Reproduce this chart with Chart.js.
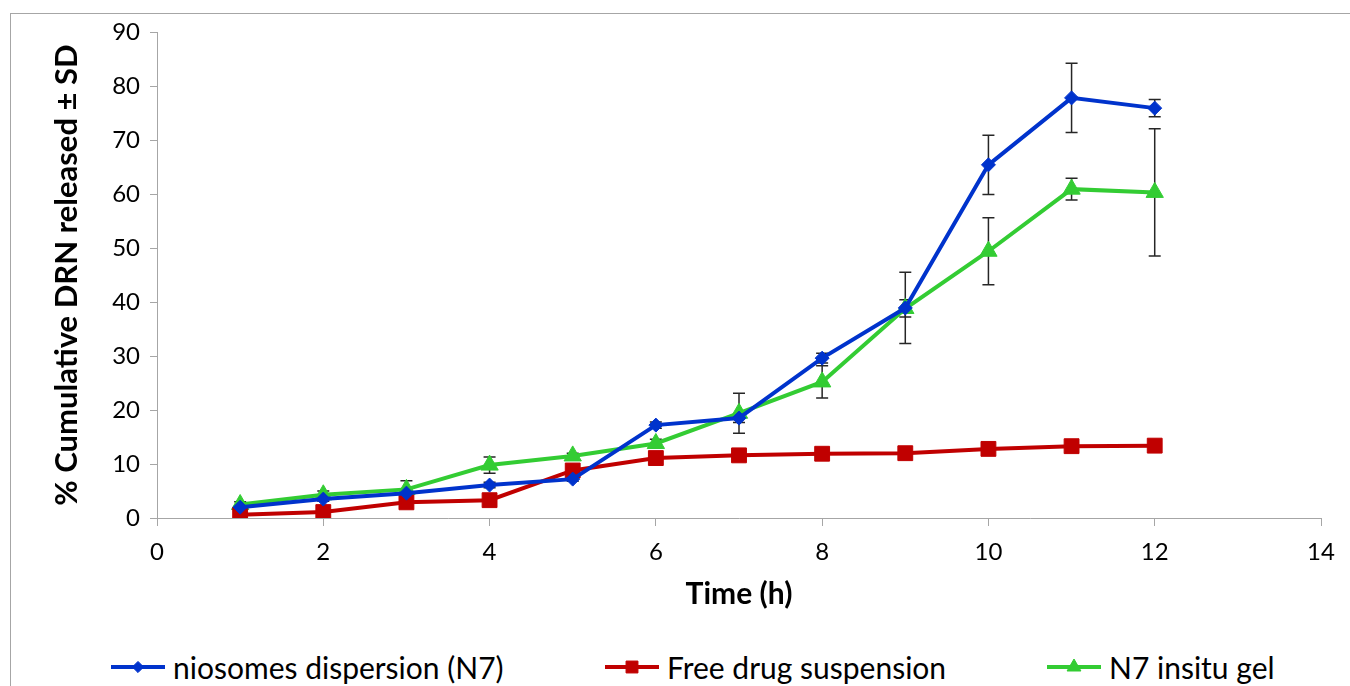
<!DOCTYPE html>
<html>
<head>
<meta charset="utf-8">
<script src="https://cdn.jsdelivr.net/npm/chart.js@4.4.1/dist/chart.umd.min.js"></script>
<style>
  html, body { margin: 0; padding: 0; background: #fff; overflow: hidden; }
  #frame { position: absolute; left: 10px; top: 13px; width: 1400px; height: 700px; border: 1px solid #a6a6a6; }
  #chart { position: absolute; left: 0; top: 0; }
  #legend { position: absolute; left: 0; top: 649px; width: 1350px; height: 36px; font-family: Lato, sans-serif; font-size: 30px; color: #000; }
  .item { position: absolute; top: 0; height: 36px; display: flex; align-items: center; white-space: nowrap; }
  .item canvas { margin-right: 8px; }
</style>
</head>
<body>
<div id="frame"></div>
<canvas id="chart" width="1350" height="640"></canvas>
<div id="legend"></div>
<script>
  // time points (h)
  var hours = [1, 2, 3, 4, 5, 6, 7, 8, 9, 10, 11, 12];

  // niosomes dispersion (N7)
  var niosomes = [2.0, 3.5, 4.6, 6.1, 7.2, 17.2, 18.5, 29.6, 38.9, 65.4, 77.8, 75.9];
  var niosomesSD = [0.3, 0.4, 0.5, 0.5, 0.4, 0.6, 0.8, 0.9, 6.6, 5.5, 6.4, 1.6];

  // Free drug suspension
  var freeDrug = [0.6, 1.1, 2.9, 3.3, 8.8, 11.1, 11.6, 11.9, 12.0, 12.8, 13.3, 13.4];
  var freeDrugSD = [0.2, 0.3, 0.4, 0.4, 0.5, 0.5, 0.4, 0.4, 0.5, 0.5, 0.6, 0.5];

  // N7 insitu gel
  var insituGel = [2.5, 4.3, 5.3, 9.8, 11.5, 13.8, 19.4, 25.2, 38.8, 49.4, 60.9, 60.3];
  var insituGelSD = [0.5, 0.7, 1.6, 1.5, 0.5, 0.8, 3.7, 3.0, 1.6, 6.2, 2.0, 11.8];

  var labels = ["niosomes dispersion (N7)", "Free drug suspension", "N7 insitu gel"];
  var xTicks = [0, 2, 4, 6, 8, 10, 12, 14];
  var yTicks = [0, 10, 20, 30, 40, 50, 60, 70, 80, 90];

  function points(vals, sd) {
    var out = [];
    for (var i = 0; i < hours.length; i++) {
      out.push({ x: hours[i], y: vals[i], sd: sd[i] });
    }
    return out;
  }

  function series(label, vals, sd, color, style, radius) {
    return {
      label: label,
      data: points(vals, sd),
      borderColor: color,
      backgroundColor: color,
      pointBackgroundColor: color,
      pointBorderColor: color,
      borderWidth: 4,
      pointStyle: style,
      pointRadius: radius,
      pointHoverRadius: radius,
      pointBorderWidth: 1,
      tension: 0
    };
  }

  var axisGray = '#a6a6a6';
  var fontName = 'Lato, sans-serif';

  // draws the ± SD bars under the markers
  var errorBars = {
    id: 'errorBars',
    beforeDatasetsDraw: function(chart) {
      var ctx = chart.ctx;
      var xs = chart.scales.x, ys = chart.scales.y;
      ctx.save();
      ctx.strokeStyle = '#262626';
      ctx.lineWidth = 1.5;
      chart.data.datasets.forEach(function(ds) {
        ds.data.forEach(function(p) {
          if (!p.sd) return;
          var px = xs.getPixelForValue(p.x);
          var top = ys.getPixelForValue(p.y + p.sd);
          var bot = ys.getPixelForValue(p.y - p.sd);
          ctx.beginPath();
          ctx.moveTo(px, top); ctx.lineTo(px, bot);
          ctx.moveTo(px - 6, top); ctx.lineTo(px + 6, top);
          ctx.moveTo(px - 6, bot); ctx.lineTo(px + 6, bot);
          ctx.stroke();
        });
      });
      ctx.restore();
    }
  };

  var chart = new Chart(document.getElementById('chart').getContext('2d'), {
    type: 'line',
    data: {
      datasets: [
        series(labels[0], niosomes, niosomesSD, '#0033cc', 'rectRot', 7),
        series(labels[1], freeDrug, freeDrugSD, '#c00000', 'rect', 10.5),
        series(labels[2], insituGel, insituGelSD, '#33cc33', 'triangle', 10)
      ]
    },
    options: {
      responsive: false,
      animation: false,
      events: [],
      layout: { padding: { top: 32, right: 29, left: 0, bottom: 0 } },
      plugins: {
        legend: { display: false },
        tooltip: { enabled: false }
      },
      scales: {
        x: {
          type: 'linear',
          min: 0,
          max: 14,
          afterBuildTicks: function(axis) { axis.ticks = xTicks.map(function(v) { return { value: v }; }); },
          afterFit: function(axis) { axis.height = 122; },
          grid: { drawOnChartArea: false, color: axisGray, tickLength: 8 },
          border: { color: axisGray, width: 1 },
          ticks: { color: '#000', padding: 12, maxRotation: 0, font: { family: fontName, size: 24 } },
          title: {
            display: true,
            text: 'Time (h)',
            color: '#000',
            padding: { top: 0, bottom: 28 },
            font: { family: fontName, size: 30, weight: 'bold', lineHeight: 1.2 }
          }
        },
        y: {
          min: 0,
          max: 90,
          afterBuildTicks: function(axis) { axis.ticks = yTicks.map(function(v) { return { value: v }; }); },
          afterFit: function(axis) { axis.width = 157; },
          grid: { drawOnChartArea: false, color: axisGray, tickLength: 7 },
          border: { color: axisGray, width: 1 },
          ticks: { color: '#000', padding: 10, font: { family: fontName, size: 24 } },
          title: {
            display: true,
            text: '% Cumulative DRN released \u00b1 SD',
            color: '#000',
            padding: { top: 48, bottom: 0 },
            font: { family: fontName, size: 31, weight: 'bold', lineHeight: 1.2 }
          }
        }
      }
    },
    plugins: [errorBars]
  });

  // legend: line with marker, then the label
  var legendX = [111, 605, 1047];

  function legendIcon(ds) {
    var c = document.createElement('canvas');
    c.width = 54; c.height = 22;
    var ctx = c.getContext('2d');
    ctx.strokeStyle = ds.borderColor;
    ctx.lineWidth = 4;
    ctx.beginPath(); ctx.moveTo(0, 11); ctx.lineTo(54, 11); ctx.stroke();
    ctx.fillStyle = ds.pointBackgroundColor;
    ctx.strokeStyle = ds.pointBorderColor;
    ctx.lineWidth = 1;
    Chart.helpers.drawPoint(ctx, { pointStyle: ds.pointStyle, radius: ds.pointRadius * 0.8, rotation: 0, borderWidth: 1 }, 27, 11);
    return c;
  }

  var legend = document.getElementById('legend');
  chart.data.datasets.forEach(function(ds, i) {
    var item = document.createElement('div');
    item.className = 'item';
    item.style.left = legendX[i] + 'px';
    item.appendChild(legendIcon(ds));
    var span = document.createElement('span');
    span.textContent = ds.label;
    item.appendChild(span);
    legend.appendChild(item);
  });
</script>
</body>
</html>
